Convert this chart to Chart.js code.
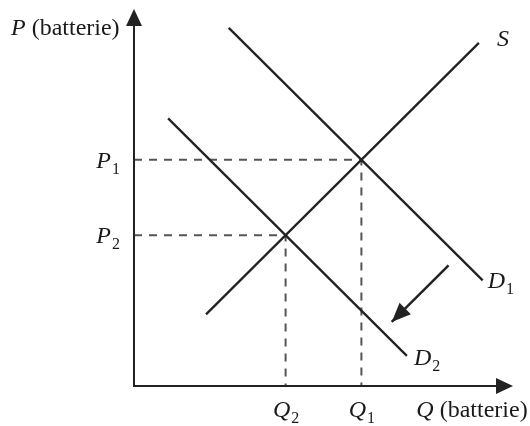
<!DOCTYPE html>
<html>
<head>
<meta charset="utf-8">
<script src="https://cdn.jsdelivr.net/npm/chart.js@4"></script>
<style>
  html, body { margin: 0; padding: 0; background: #fff; }
  #wrap { width: 530px; height: 426px; position: relative; }
</style>
</head>
<body>
<div id="wrap"><canvas id="c" width="530" height="426"></canvas></div>
<script>
// ---- data (arbitrary units, axes 0..100) ----
const supplyQ = [19, 91];
const supplyP = [19, 91];
const demand1Q = [25, 92];
const demand1P = [95, 28];
const demand2Q = [9, 72];
const demand2P = [71, 8];
const equilibriumQ = [60, 40];   // Q1, Q2
const equilibriumP = [60, 40];   // P1, P2
const shiftArrowQ = [83, 68];
const shiftArrowP = [32, 17];
const priceTickLabels = ['P', 'P'];
const priceTickSubs = ['1', '2'];
const qtyTickLabels = ['Q', 'Q'];
const qtyTickSubs = ['1', '2'];
const axisTitles = ['P', ' (batterie)', 'Q', ' (batterie)'];

const pts = (xs, ys) => xs.map((v, i) => ({ x: v, y: ys[i] }));
const ink = '#222';
const dashCol = '#555';

const datasets = [
  { data: pts(supplyQ, supplyP) },
  { data: pts(demand1Q, demand1P) },
  { data: pts(demand2Q, demand2P) },
  { data: pts(shiftArrowQ, shiftArrowP), borderWidth: 2.5 },
].map(d => Object.assign({ showLine: true, borderColor: ink, borderWidth: 2.3, pointRadius: 0, fill: false }, d));

equilibriumQ.forEach((q, i) => {
  datasets.push({
    data: [{ x: 0, y: equilibriumP[i] }, { x: q, y: equilibriumP[i] }, { x: q, y: 0 }],
    showLine: true, borderColor: dashCol, borderWidth: 2, borderDash: [8, 7],
    pointRadius: 0, fill: false
  });
});

const serif = '"Liberation Serif", "Times New Roman", serif';

function drawHead(ctx, tx, ty, ang, len, half) {
  ctx.beginPath();
  ctx.moveTo(tx, ty);
  ctx.lineTo(tx - len * Math.cos(ang) + half * Math.sin(ang), ty - len * Math.sin(ang) - half * Math.cos(ang));
  ctx.lineTo(tx - len * Math.cos(ang) - half * Math.sin(ang), ty - len * Math.sin(ang) + half * Math.cos(ang));
  ctx.closePath();
  ctx.fill();
}

function labelWithSub(ctx, main, sub, x, y, align, mainSize, subSize, subDrop) {
  ctx.font = 'italic ' + mainSize + 'px ' + serif;
  const w1 = ctx.measureText(main).width;
  ctx.font = subSize + 'px ' + serif;
  const w2 = ctx.measureText(sub).width;
  let x0 = x;
  if (align === 'right') x0 = x - w1 - w2;
  else if (align === 'center') x0 = x - (w1 + w2) / 2;
  ctx.textAlign = 'left';
  ctx.textBaseline = 'alphabetic';
  ctx.font = 'italic ' + mainSize + 'px ' + serif;
  ctx.fillText(main, x0, y);
  ctx.font = subSize + 'px ' + serif;
  ctx.fillText(sub, x0 + w1 + 1, y + subDrop);
}

const decor = {
  id: 'decor',
  afterDatasetsDraw(chart) {
    const { ctx } = chart;
    const xs = chart.scales.x, ys = chart.scales.y;
    const X = v => xs.getPixelForValue(v), Y = v => ys.getPixelForValue(v);
    const ox = X(0), oy = Y(0), topY = Y(100), rightX = X(100);
    ctx.save();
    ctx.fillStyle = ink;
    ctx.strokeStyle = ink;
    ctx.lineWidth = 2;
    // axes
    ctx.beginPath();
    ctx.moveTo(ox, oy); ctx.lineTo(ox, topY + 10);
    ctx.moveTo(ox - 1, oy); ctx.lineTo(rightX - 10, oy);
    ctx.stroke();
    drawHead(ctx, ox, topY, -Math.PI / 2, 17, 8);
    drawHead(ctx, rightX, oy, 0, 17, 8);
    // shift arrow head
    const ax1 = X(shiftArrowQ[0]), ay1 = Y(shiftArrowP[0]);
    const ax2 = X(shiftArrowQ[1]), ay2 = Y(shiftArrowP[1]);
    drawHead(ctx, ax2, ay2, Math.atan2(ay2 - ay1, ax2 - ax1), 19, 8);

    // texts
    ctx.fillStyle = '#1a1a1a';
    ctx.textBaseline = 'alphabetic';
    const fs = 24, ss = 16;
    // axis titles
    ctx.textAlign = 'left';
    ctx.font = 'italic ' + fs + 'px ' + serif;
    ctx.fillText(axisTitles[0], 11, topY + 26);
    let w = ctx.measureText(axisTitles[0]).width;
    ctx.font = fs + 'px ' + serif;
    ctx.fillText(axisTitles[1], 11 + w, topY + 26);

    ctx.font = 'italic ' + fs + 'px ' + serif;
    const qx = X(74.5);
    ctx.fillText(axisTitles[2], qx, oy + 31);
    w = ctx.measureText(axisTitles[2]).width;
    ctx.font = fs + 'px ' + serif;
    ctx.fillText(axisTitles[3], qx + w, oy + 31);

    // price ticks
    equilibriumP.forEach((p, i) => {
      labelWithSub(ctx, priceTickLabels[i], priceTickSubs[i], ox - 15, Y(p) + 8, 'right', fs, ss, 6);
    });
    equilibriumQ.forEach((q, i) => {
      labelWithSub(ctx, qtyTickLabels[i], qtyTickSubs[i], X(q), oy + 31, 'center', fs, ss, 6);
    });
    // curve labels
    ctx.font = 'italic ' + fs + 'px ' + serif;
    ctx.textAlign = 'left';
    ctx.fillText('S', X(supplyQ[1]) + 18, Y(supplyP[1]) + 3);
    labelWithSub(ctx, 'D', '1', X(demand1Q[1]) + 5, Y(demand1P[1]) + 8, 'left', fs, ss, 6);
    labelWithSub(ctx, 'D', '2', X(demand2Q[1]) + 7, Y(demand2P[1]) + 9, 'left', fs, ss, 6);
    ctx.restore();
  }
};

new Chart(document.getElementById('c'), {
  type: 'scatter',
  data: { datasets },
  options: {
    responsive: false,
    animation: false,
    layout: { padding: { left: 134, right: 17, top: 9, bottom: 40 } },
    plugins: { legend: { display: false }, tooltip: { enabled: false } },
    scales: {
      x: { type: 'linear', min: 0, max: 100, display: false },
      y: { type: 'linear', min: 0, max: 100, display: false }
    },
    elements: { line: { tension: 0, borderCapStyle: 'butt' } }
  },
  plugins: [decor]
});
</script>
</body>
</html>
